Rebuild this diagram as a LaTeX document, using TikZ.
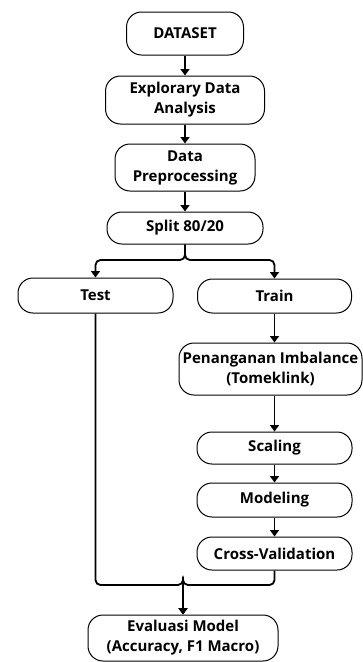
\documentclass[tikz,border=0pt]{standalone}
\usepackage{fontspec}
\setmainfont{Open Sans}
\usetikzlibrary{arrows.meta}
\begin{document}
\begin{tikzpicture}[x=1pt,y=-1pt,
  box/.style={draw, line width=1pt, rounded corners=15pt, align=center,
    inner sep=0pt, font=\fontsize{15}{20}\selectfont\bfseries},
  conn/.style={line width=1.8pt, rounded corners=5pt,
    -{Triangle[width=9pt,length=6.5pt]}}]
\useasboundingbox (0,0) rectangle (363,662);

% main column
\node[box, minimum width=117pt, minimum height=43pt] (dataset) at (185,33.5) {DATASET};
\node[box, minimum width=159pt, minimum height=48pt] (eda) at (185,100) {Explorary Data\\Analysis};
\node[box, minimum width=140pt, minimum height=47pt] (prep) at (185,167.5) {Data\\Preprocessing};
\node[box, minimum width=156pt, minimum height=32pt] (split) at (185,228) {Split 80/20};

% branches
\node[box, minimum width=155pt, minimum height=35pt] (test) at (95.5,295.5) {Test};
\node[box, minimum width=154pt, minimum height=34pt] (train) at (274.5,296) {Train};
\node[box, minimum width=183pt, minimum height=52pt] (imb) at (270.5,369) {Penanganan Imbalance\\(Tomeklink)};
\node[box, minimum width=155pt, minimum height=32pt] (scal) at (274.5,448) {Scaling};
\node[box, minimum width=155pt, minimum height=34pt] (model) at (274.5,500) {Modeling};
\node[box, minimum width=155pt, minimum height=33pt] (cv) at (274.5,553.5) {Cross-Validation};

\node[box, minimum width=190pt, minimum height=46pt] (eval) at (183,638) {Evaluasi Model\\(Accuracy, F1 Macro)};

\coordinate (fork) at (185,260);
\coordinate (merge) at (183,585);

% connectors
\draw[conn] (dataset) -- (eda);
\draw[conn] (eda) -- (prep);
\draw[conn] (prep) -- (split);
\draw[conn] (split.south) -- (split.south |- fork) -| (test.north);
\draw[conn] (split.south) -- (split.south |- fork) -| (train.north);
\draw[conn] (train.south) -- (train.south |- imb.north);
\draw[conn] (imb.south -| train.south) -- (scal.north);
\draw[conn] (scal) -- (model);
\draw[conn] (model) -- (cv);
\draw[conn] (test.south) |- (merge) -| (eval.north);
\draw[conn] (cv.south) |- (merge) -| (eval.north);
\end{tikzpicture}
\end{document}
